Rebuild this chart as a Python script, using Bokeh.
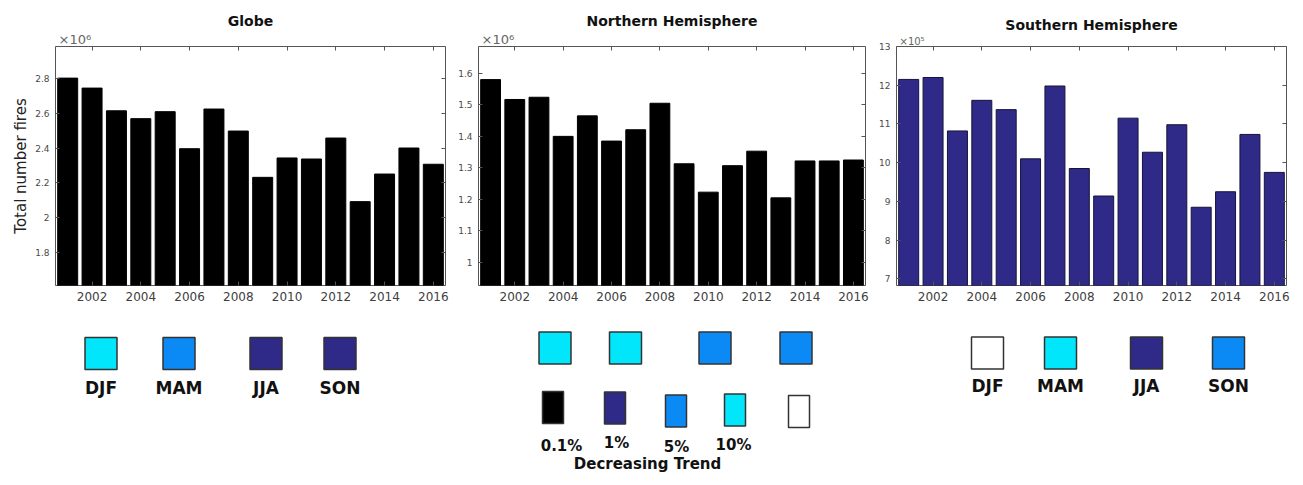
from bokeh.plotting import figure
from bokeh.layouts import column, row
from bokeh.models import Range1d, FixedTicker, LinearAxis, CustomJSTickFormatter, Title
from bokeh.embed import file_html
from bokeh.resources import INLINE
from bokeh.core.properties import value

# ---------------- data ----------------
years = list(range(2001, 2017))
globe_fires_e6 = [2.800, 2.743, 2.613, 2.568, 2.608, 2.396, 2.623, 2.497,
                  2.232, 2.343, 2.337, 2.457, 2.093, 2.251, 2.400, 2.307]
nh_fires_e6 = [1.580, 1.517, 1.524, 1.400, 1.465, 1.385, 1.421, 1.505,
               1.313, 1.223, 1.307, 1.353, 1.205, 1.322, 1.322, 1.325]
sh_fires_e5 = [12.15, 12.20, 10.82, 11.61, 11.37, 10.10, 11.98, 9.85,
               9.14, 11.15, 10.27, 10.98, 8.85, 9.25, 10.73, 9.75]
x_tick_years = [2002, 2004, 2006, 2008, 2010, 2012, 2014, 2016]
globe_yticks = [1.8, 2.0, 2.2, 2.4, 2.6, 2.8]
nh_yticks = [1.0, 1.1, 1.2, 1.3, 1.4, 1.5, 1.6]
sh_yticks = [7, 8, 9, 10, 11, 12, 13]
panel_titles = ["Globe", "Northern Hemisphere", "Southern Hemisphere"]
panel_exponents = ["×10⁶", "×10⁶", "×10⁵"]
seasons = ["DJF", "MAM", "JJA", "SON"]
trend_levels = ["0.1%", "1%", "5%", "10%", ""]
trend_caption = "Decreasing Trend"

# ---------------- styles ----------------
CYAN = "#02E6FB"
BLUE = "#0B8AF6"
PURPLE = "#2F2A87"
BLACK = "#000000"
WHITE = "#FFFFFF"
globe_season_colors = [CYAN, BLUE, PURPLE, PURPLE]
nh_season_colors = [CYAN, CYAN, BLUE, BLUE]
sh_season_colors = [WHITE, CYAN, PURPLE, BLUE]
trend_colors = [BLACK, PURPLE, BLUE, CYAN, WHITE]
FONT = "DejaVu Sans"

PANEL_H = 313
FRAME_TOP = 46
FRAME_H = 239

fmt_js = CustomJSTickFormatter(code="return String(Math.round(tick*100)/100);")
blank_js = CustomJSTickFormatter(code="return '';")


def make_axis(ticks, labelled, size, color):
    ax = LinearAxis(ticker=FixedTicker(ticks=ticks),
                    formatter=fmt_js if labelled else blank_js)
    ax.major_tick_in = 4
    ax.major_tick_out = 0
    ax.minor_tick_line_color = None
    ax.axis_line_color = None
    ax.major_tick_line_color = "#555555"
    ax.major_label_text_font = FONT
    ax.major_label_text_font_size = size if labelled else "1px"
    ax.major_label_text_color = color
    ax.major_label_standoff = 5 if labelled else 0
    return ax


def panel(title, vals, ylim, yticks, exponent, exp_size, width, mbl, mbr,
          fill, line, ylabel=None):
    p = figure(width=width, height=PANEL_H, output_backend="svg", toolbar_location=None,
               x_range=Range1d(2000.5, 2016.5), y_range=Range1d(*ylim),
               x_axis_type=None, y_axis_type=None,
               min_border_left=mbl, min_border_right=mbr,
               min_border_top=FRAME_TOP, min_border_bottom=PANEL_H - FRAME_TOP - FRAME_H)
    p.vbar(x=years, top=vals, bottom=0, width=0.82, fill_color=fill, line_color=line,
           line_width=1)
    xb = make_axis(x_tick_years, True, "12px", "#404040")
    xb.major_label_standoff = 6
    p.add_layout(xb, "below")
    yl = make_axis(yticks, True, "9px", "#4a4a4a")
    yl.major_label_standoff = 6
    if ylabel:
        yl.axis_label = ylabel
        yl.axis_label_text_font = FONT
        yl.axis_label_text_font_size = "15px"
        yl.axis_label_text_font_style = "normal"
        yl.axis_label_text_color = "#222222"
        yl.axis_label_standoff = 2
    p.add_layout(yl, "left")
    p.add_layout(make_axis(x_tick_years, False, "1px", "#fff"), "above")
    p.add_layout(Title(text=exponent, align="left", offset=3, standoff=0,
                       text_font=FONT, text_font_size=exp_size,
                       text_font_style="normal", text_color="#666666"), "above")
    p.outline_line_color = "#555555"
    p.outline_line_width = 1
    p.title.text = title
    p.title.align = "center"
    p.title.text_font = FONT
    p.title.text_font_size = "14px"
    p.title.text_font_style = "bold"
    p.title.text_color = "#111111"
    p.title.standoff = 2
    p.add_layout(make_axis(yticks, False, "1px", "#fff"), "right")
    return p


p1 = panel(panel_titles[0], globe_fires_e6, (1.613, 2.981), globe_yticks,
           panel_exponents[0], "13px", 455, 55, 10, BLACK, BLACK, ylabel="Total number fires")
p2 = panel(panel_titles[1], nh_fires_e6, (0.927, 1.685), nh_yticks,
           panel_exponents[1], "13px", 420, 21, 10, BLACK, BLACK)
p3 = panel(panel_titles[2], sh_fires_e5, (6.83, 13.0), sh_yticks,
           panel_exponents[2], "10px", 420, 21, 9, PURPLE, "#15133a")

# ---------------- legend strip (page pixel coordinates) ----------------
lg = figure(width=1295, height=164, output_backend="svg", toolbar_location=None,
            x_range=Range1d(0, 1295), y_range=Range1d(477, 313),
            x_axis_type=None, y_axis_type=None, min_border=0,
            min_border_left=0, min_border_right=0, min_border_top=0, min_border_bottom=0)
lg.outline_line_color = None

SW = 32
groups = [
    # (centers x, center y, colors, labels, label y)
    ([100.5, 178.5, 265.5, 339.5], 353, globe_season_colors, seasons, 387),
    ([554.5, 625.0, 714.5, 795.5], 347.5, nh_season_colors, None, None),
    ([987.0, 1060.0, 1146.0, 1228.0], 352.5, sh_season_colors, seasons, 385),
]
for xs, yc, cols, labs, ly in groups:
    lg.quad(left=[x - SW / 2 for x in xs], right=[x + SW / 2 for x in xs],
            top=[yc - SW / 2] * len(xs), bottom=[yc + SW / 2] * len(xs),
            fill_color=cols, line_color="#333333", line_width=1.5)
    if labs:
        lg.text(x=xs, y=[ly] * len(xs), text=labs, text_align="center",
                text_baseline="middle", text_font=value(FONT), text_font_style="bold",
                text_font_size="17px", text_color="#111111")

trend_x = [552.5, 614.5, 675.5, 734.5, 798.5]
trend_y = [407.0, 407.5, 410.5, 409.5, 411.0]
lg.quad(left=[x - 10.5 for x in trend_x], right=[x + 10.5 for x in trend_x],
        top=[y - 16 for y in trend_y], bottom=[y + 16 for y in trend_y],
        fill_color=trend_colors, line_color="#333333", line_width=1.5)
lab_y = [445, 442, 446, 444]
lg.text(x=[561, 616, 676, 733], y=lab_y, text=trend_levels[:4], text_align="center",
        text_baseline="middle", text_font=value(FONT), text_font_style="bold",
        text_font_size="15px", text_color="#111111")
lg.text(x=[647], y=[463], text=[trend_caption], text_align="center",
        text_baseline="middle", text_font=value(FONT), text_font_style="bold",
        text_font_size="15px", text_color="#111111")

layout = column(row(p1, p2, p3), lg)
open("out.html", "w").write(file_html(layout, INLINE))
